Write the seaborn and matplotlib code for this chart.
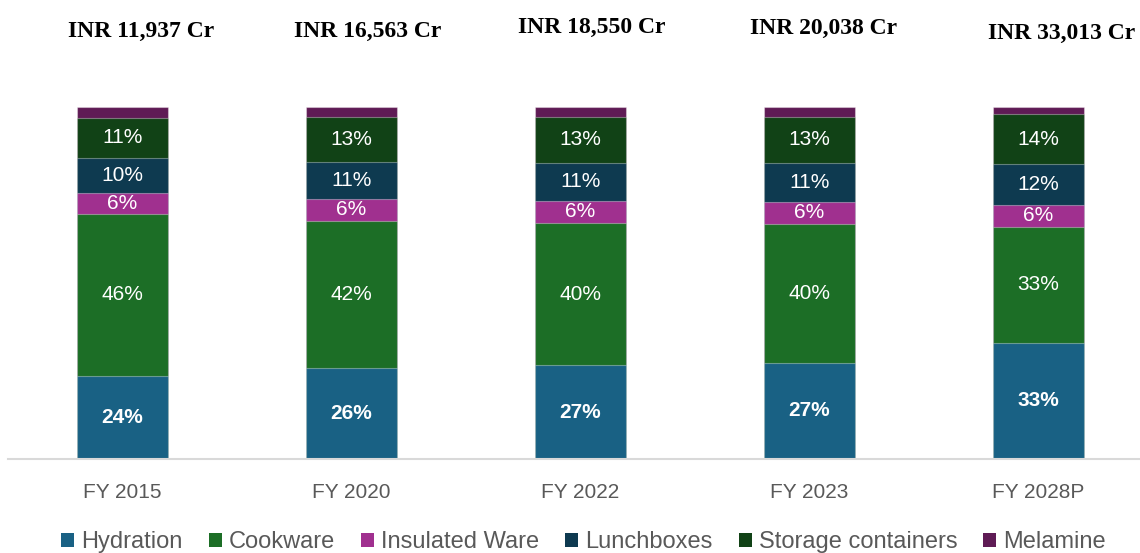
import numpy as np
import pandas as pd
import seaborn as sns
from matplotlib import pyplot as plt
from matplotlib.patches import Patch

years = ["FY 2015", "FY 2020", "FY 2022", "FY 2023", "FY 2028P"]
totals = ["INR 11,937 Cr", "INR 16,563 Cr", "INR 18,550 Cr", "INR 20,038 Cr", "INR 33,013 Cr"]

segments = ["Hydration", "Cookware", "Insulated Ware", "Lunchboxes", "Storage containers", "Melamine"]
# shares in %
hydration = [23.6, 25.9, 26.7, 27.3, 33.0]
cookware = [46.1, 41.8, 40.3, 39.6, 33.0]
insulated = [6.0, 6.2, 6.4, 6.0, 6.1]
lunchboxes = [9.8, 10.6, 10.8, 11.3, 11.6]
storage = [11.4, 12.8, 12.9, 13.0, 14.3]
melamine = [3.1, 2.7, 2.9, 2.8, 2.0]

colors = ["#196184", "#1c6e26", "#a0308f", "#0e3a50", "#114216", "#5f1b55"]

df = pd.DataFrame({
    "year": years,
    "Hydration": hydration,
    "Cookware": cookware,
    "Insulated Ware": insulated,
    "Lunchboxes": lunchboxes,
    "Storage containers": storage,
    "Melamine": melamine,
})

sns.set_theme(style="white")
plt.rcParams["font.family"] = ["Liberation Sans", "DejaVu Sans"]

fig = plt.figure(figsize=(11.4, 5.53), dpi=100)
ax = fig.add_axes([8 / 1140, 94 / 553, 1132 / 1140, 352 / 553])

# stacked bars: draw cumulative totals from the top layer down
cum = df[segments].cumsum(axis=1)
for seg, c in reversed(list(zip(segments, colors))):
    sns.barplot(x=df["year"], y=cum[seg], color=c, width=0.4, ax=ax,
                order=years, edgecolor=(1, 1, 1, 0.35), linewidth=0.8,
                saturation=1)

# segment labels
for i, year in enumerate(years):
    bottom = 0
    for seg in segments:
        v = df.loc[i, seg]
        if seg != "Melamine":
            ax.text(i, bottom + v / 2, f"{v:.0f}%", ha="center", va="center",
                    color="white", fontsize=15,
                    fontweight="bold" if seg == "Hydration" else "normal")
        bottom += v

# totals above bars
title_dx = [0.08, 0.07, 0.05, 0.06, 0.10]
title_y = [1.216, 1.216, 1.227, 1.222, 1.210]
for i, t in enumerate(totals):
    ax.text(i + title_dx[i], title_y[i], t, transform=ax.get_xaxis_transform(),
            ha="center", va="center", fontsize=17, fontweight="bold",
            family=["Liberation Serif", "DejaVu Serif"], color="black")

ax.set_xlim(-0.5, -0.5 + 1132 / 229)
ax.set_ylim(0, 100)
ax.set_xlabel("")
ax.set_ylabel("")
ax.set_yticks([])
for s in ["top", "left", "right"]:
    ax.spines[s].set_visible(False)
ax.spines["bottom"].set_color("#d9d9d9")
ax.spines["bottom"].set_linewidth(1.5)
ax.tick_params(axis="x", length=0, labelsize=15, labelcolor="#595959", pad=17)

handles = [Patch(facecolor=c, edgecolor="none") for c in colors]
fig.legend(handles, segments, loc="center", bbox_to_anchor=(0.512, 11 / 553),
           ncol=6, frameon=False, fontsize=17, handlelength=0.55, handleheight=0.55,
           handletextpad=0.3, columnspacing=1.1, labelcolor="#595959",
           borderpad=0)

fig.savefig("out.png", dpi=100)
